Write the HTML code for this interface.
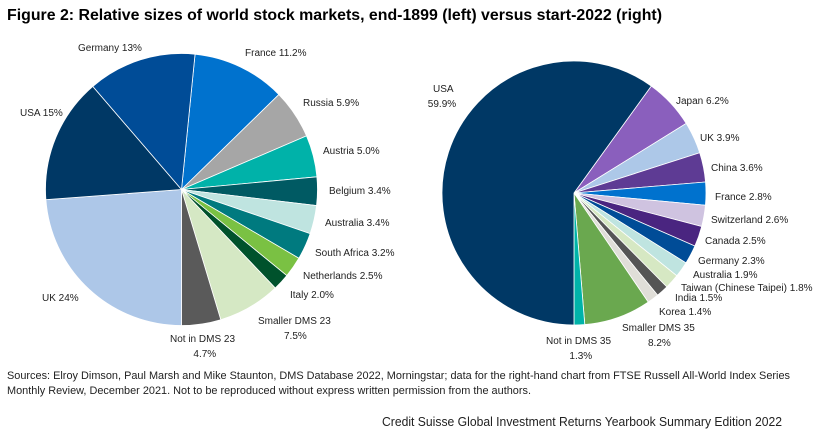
<!DOCTYPE html>
<html><head><meta charset="utf-8"><style>
body{margin:0;background:#fff;width:817px;height:438px;overflow:hidden}
svg{display:block;font-family:"Liberation Sans",sans-serif}
.l{font-size:10px;fill:#222}
</style></head><body>
<svg id="chart" width="817" height="438">
<text x="7" y="20" font-size="15.5" font-weight="bold" textLength="655" lengthAdjust="spacingAndGlyphs">Figure 2: Relative sizes of world stock markets, end-1899 (left) versus start-2022 (right)</text>
<g id="left"></g>
<g id="right"></g>
<text x="7" y="379" font-size="11" fill="#222" textLength="783" lengthAdjust="spacingAndGlyphs">Sources: Elroy Dimson, Paul Marsh and Mike Staunton, DMS Database 2022, Morningstar; data for the right-hand chart from FTSE Russell All-World Index Series</text>
<text x="7" y="394" font-size="11" fill="#222" textLength="524" lengthAdjust="spacingAndGlyphs">Monthly Review, December 2021. Not to be reproduced without express written permission from the authors.</text>
<text x="382" y="426" font-size="13" fill="#222" textLength="400" lengthAdjust="spacingAndGlyphs">Credit Suisse Global Investment Returns Yearbook Summary Edition 2022</text>
</svg>
<script>
const leftNames=["France","Russia","Austria","Belgium","Australia","South Africa","Netherlands","Italy","Smaller DMS 23","Not in DMS 23","UK","USA","Germany"];
const leftValues=[11.2,5.9,5.0,3.4,3.4,3.2,2.5,2.0,7.5,4.7,24,15,13];
const leftLabels=["France 11.2%","Russia 5.9%","Austria 5.0%","Belgium 3.4%","Australia 3.4%","South Africa 3.2%","Netherlands 2.5%","Italy 2.0%","Smaller DMS 23|7.5%","Not in DMS 23|4.7%","UK 24%","USA 15%","Germany 13%"];
const rightNames=["Japan","UK","China","France","Switzerland","Canada","Germany","Australia","Taiwan","India","Korea","Smaller DMS 35","Not in DMS 35","USA"];
const rightValues=[6.2,3.9,3.6,2.8,2.6,2.5,2.3,1.9,1.8,1.5,1.4,8.2,1.3,59.9];
const rightLabels=["Japan 6.2%","UK 3.9%","China 3.6%","France 2.8%","Switzerland 2.6%","Canada 2.5%","Germany 2.3%","Australia 1.9%","Taiwan (Chinese Taipei) 1.8%","India 1.5%","Korea 1.4%","Smaller DMS 35|8.2%","Not in DMS 35|1.3%","USA|59.9%"];

const leftColors=["#0072ce","#a6a6a6","#00b2a9","#005a63","#bfe4e0","#007a7f","#7ac143","#00522c","#d5e8c4","#5a5a5a","#adc7e8","#003865","#004c97"];
const rightColors=["#8a5fbd","#adc8e8","#5e3b94","#0072ce","#cfc3e0","#4a2580","#004c97","#bfe4e0","#d6e8c3","#555555","#e0ded8","#6aa84f","#00b3a9","#003865"];
const leftPos=[[245,56],[303,106],[323,154],[329,194],[325,226],[315,256],[303,279],[290,298],[258,324],[170,342],[42,301],[20,116],[78,51]];
const rightPos=[[676,104],[700,141],[711,171],[715,200],[711,223],[705,244],[698,264],[693,278],[681,291],[675,301],[659,315],[622,331],[546,344],[433,92]];
const NS="http://www.w3.org/2000/svg";
function pie(g,names,vals,cols,labels,pos,cx,cy,r,startAngle){
  const tot=vals.reduce((a,b)=>a+b,0);
  let acc=startAngle;
  vals.forEach((v,i)=>{
    const a0=acc, a1=acc+v/tot*2*Math.PI; acc=a1;
    const x0=cx+r*Math.sin(a0),y0=cy-r*Math.cos(a0),x1=cx+r*Math.sin(a1),y1=cy-r*Math.cos(a1);
    const p=document.createElementNS(NS,"path");
    p.setAttribute("d",`M${cx},${cy}L${x0},${y0}A${r},${r} 0 ${a1-a0>Math.PI?1:0} 1 ${x1},${y1}Z`);
    p.setAttribute("fill",cols[i]);p.setAttribute("stroke","#fff");p.setAttribute("stroke-width","0.8");
    
    
    g.appendChild(p);
    const parts=labels[i].split("|");
    parts.forEach((t,k)=>{
      const tx=document.createElementNS(NS,"text");
      tx.setAttribute("class","l");
      let x=pos[i][0];
      if(k>0){x=pos[i][0]+(parts[0].length-t.length)*2.6;}
      tx.setAttribute("x",x);tx.setAttribute("y",pos[i][1]+k*15);
      tx.textContent=t;
      
      
      g.appendChild(tx);
    });
  });
}
function startFor(vals,lastCount){
  const tot=vals.reduce((a,b)=>a+b,0);
  let s=0;for(let i=0;i<vals.length-lastCount;i++)s+=vals[i];
  return Math.PI - s/tot*2*Math.PI;
}
pie(document.getElementById("left"),leftNames,leftValues,leftColors,leftLabels,leftPos,181.5,189.5,136,startFor(leftValues,3));
pie(document.getElementById("right"),rightNames,rightValues,rightColors,rightLabels,rightPos,574,193,132,startFor(rightValues,1));
</script>
</body></html>
